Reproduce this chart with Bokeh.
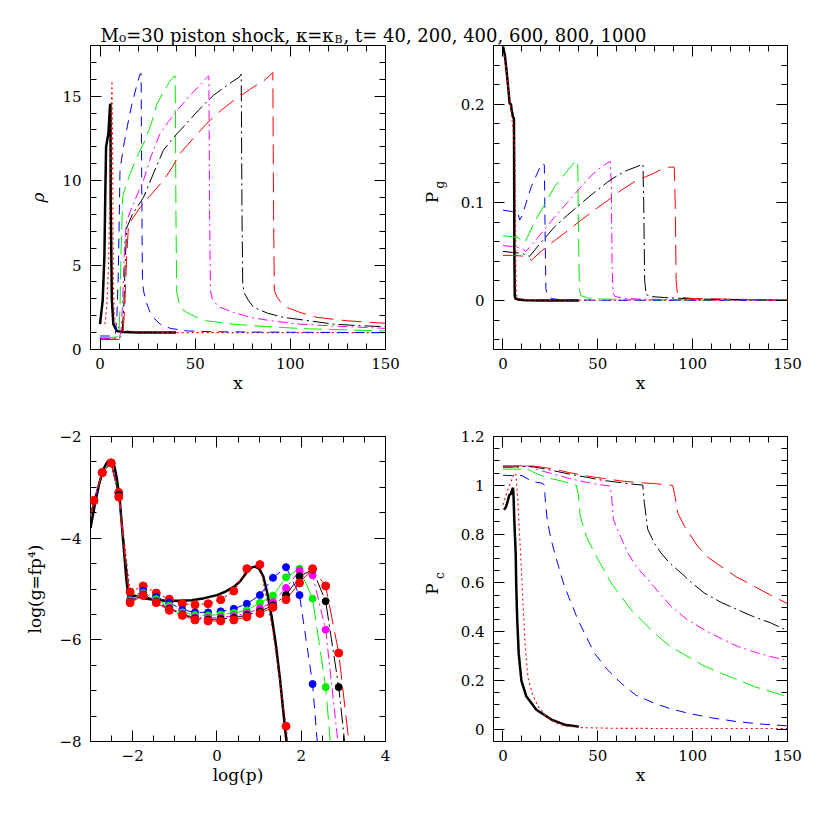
from bokeh.plotting import figure
from bokeh.models import (LinearAxis, SingleIntervalTicker, FixedTicker, CustomJSTickFormatter,
                          Label, Range1d)
from bokeh.layouts import column, row
from bokeh.embed import file_html
from bokeh.resources import INLINE

# ---------------------------------------------------------------- texts
TITLE_MAIN = "M\u2080=30 piston shock, \u03ba=\u03ba"
TITLE_SUB = "B"
TITLE_TAIL = ", t= 40, 200, 400, 600, 800, 1000"

# ---------------------------------------------------------------- panel 1: density rho(x)
rho40_x = [0, 1.4, 2.3, 2.8, 3.2, 4.4, 5.3, 5.5, 5.6, 6.2, 7.0, 8.8, 12, 20, 30, 40]
rho40 = [1.5, 2.9, 5.5, 9.4, 12.0, 12.8, 14.5, 14.5, 9.0, 3.0, 1.5, 1.1, 1.04, 1.01, 1.0, 1.0]

rho200_x = [2.6, 3.5, 4.5, 5.2, 5.8, 6.1, 6.3, 6.6, 7.0, 7.5, 8.5, 10, 13, 18, 25, 40, 80, 150]
rho200 = [1.5, 2.5, 5.0, 9.0, 13.0, 15.0, 15.9, 12.0, 4.0, 2.0, 1.5, 1.25, 1.12, 1.06, 1.03, 1.0, 1.0, 1.0]

rho400_x = [0, 5, 8, 8.8, 9.5, 10.0, 10.5, 12.3, 14.5, 16.7, 19, 21, 21.6, 21.9, 22.3, 23, 24.6, 27, 31.6, 37, 45.6, 60, 100, 150]
rho400 = [0.8, 0.8, 0.85, 1.8, 4.0, 7.0, 10.6, 12.0, 13.3, 14.5, 15.5, 16.3, 16.35, 10.0, 4.0, 3.4, 2.7, 2.0, 1.5, 1.25, 1.1, 1.05, 1.02, 1.0]

rho600_x = [0, 5, 9, 10, 10.5, 11, 11.9, 13, 15.8, 19, 23.7, 27, 29.8, 33, 36.8, 39.0, 39.5, 39.9, 40.3, 41.5, 43, 45.6, 50, 56, 70, 87.7, 110, 150]
rho600 = [0.7, 0.7, 0.75, 1.1, 2.5, 5.5, 9.0, 9.5, 10.4, 11.3, 12.4, 13.4, 14.5, 15.2, 15.9, 16.2, 16.2, 8.0, 3.4, 2.8, 2.4, 2.2, 1.95, 1.7, 1.5, 1.35, 1.22, 1.1]

rho800_x = [0, 5, 10, 11, 11.8, 12.5, 13, 14, 17, 22.8, 27, 31.6, 36, 42, 47, 52, 56, 57.2, 57.6, 58, 59, 61, 63, 70, 79, 90, 105, 125, 150]
rho800 = [0.65, 0.65, 0.7, 1.0, 2.5, 5.0, 6.4, 7.6, 8.5, 10.0, 11.5, 12.8, 13.5, 14.35, 15.0, 15.6, 16.1, 16.2, 8.0, 3.5, 3.0, 2.7, 2.5, 2.2, 1.9, 1.7, 1.5, 1.38, 1.25]

rho1000_x = [0, 5, 10, 11.5, 12.5, 13.2, 14, 17, 22.8, 28, 33.3, 39, 45.6, 52, 59.6, 65, 70, 73, 74.2, 74.6, 75, 76, 78, 80.7, 88, 96.5, 110, 122.8, 135, 150]
rho1000 = [0.6, 0.6, 0.62, 0.9, 2.5, 5.0, 7.2, 8.0, 9.0, 10.4, 11.8, 12.6, 13.4, 14.2, 15.05, 15.5, 15.9, 16.1, 16.3, 8.0, 3.8, 3.3, 2.9, 2.5, 2.15, 1.9, 1.7, 1.5, 1.42, 1.35]

rho1200_x = [0, 5, 10, 12, 13, 14, 15, 18, 21, 27, 33.3, 38, 42, 49, 56.2, 63, 70.2, 73.7, 75, 80, 86, 89, 90.8, 91.2, 91.6, 93, 95, 98, 105, 114, 130, 150]
rho1200 = [0.6, 0.6, 0.6, 0.8, 2.5, 5.5, 7.4, 7.9, 8.4, 9.2, 10.0, 10.8, 11.6, 12.5, 13.4, 14.1, 14.75, 15.1, 15.1, 15.5, 15.9, 16.2, 16.4, 8.0, 3.5, 3.1, 2.8, 2.5, 2.2, 1.9, 1.7, 1.55]

# ---------------------------------------------------------------- panel 2: gas pressure Pg(x)
pg40_x = [0, 1, 2, 3, 3.5, 4.2, 4.6, 5.2, 5.8, 6.0, 6.2, 6.6, 8, 12, 20, 40]
pg40 = [0.259, 0.25, 0.232, 0.212, 0.201, 0.2, 0.194, 0.188, 0.185, 0.05, 0.004, 0.002, 0.001, 0.0003, 0, 0]

pg200_x = [0.5, 1.5, 2.5, 3.5, 4.5, 5.5, 6.2, 6.6, 6.9, 7.5, 10, 20, 50, 100, 150]
pg200 = [0.25, 0.24, 0.222, 0.205, 0.19, 0.17, 0.153, 0.1, 0.01, 0.003, 0.001, 0.0005, 0.0002, 0.0001, 0]

pg400_x = [0, 4, 7.9, 8.8, 10, 14.9, 19.3, 21, 21.8, 22.2, 22.6, 23.5, 25.4, 30, 50, 100, 150]
pg400 = [0.092, 0.091, 0.089, 0.082, 0.086, 0.116, 0.135, 0.14, 0.138, 0.07, 0.012, 0.005, 0.002, 0.0008, 0.0003, 0.0001, 0]

pg600_x = [0, 5, 8, 11.4, 13, 16.6, 22, 27.2, 33, 38.6, 39.4, 39.8, 40.3, 41, 45, 50, 70, 150]
pg600 = [0.066, 0.065, 0.064, 0.059, 0.065, 0.08, 0.098, 0.116, 0.13, 0.143, 0.14, 0.07, 0.012, 0.005, 0.0025, 0.0015, 0.0008, 0.0002]

pg800_x = [0, 5, 10, 12, 14, 20, 27.2, 34, 41.2, 47, 51.7, 56.5, 57.1, 57.5, 58, 59, 63, 70, 90, 150]
pg800 = [0.056, 0.055, 0.053, 0.05, 0.054, 0.068, 0.085, 0.1, 0.116, 0.128, 0.136, 0.142, 0.12, 0.04, 0.008, 0.004, 0.0025, 0.0015, 0.0008, 0.0002]

pg1000_x = [0, 5, 10, 14, 20, 27.2, 34, 41.2, 48, 55.3, 60, 65.8, 70, 73.8, 74.2, 74.7, 75.5, 78, 85, 100, 150]
pg1000 = [0.05, 0.049, 0.048, 0.045, 0.059, 0.075, 0.087, 0.099, 0.11, 0.121, 0.127, 0.133, 0.136, 0.139, 0.1, 0.02, 0.006, 0.004, 0.003, 0.0015, 0.0003]

pg1200_x = [0, 5, 12, 15, 20, 27.2, 34, 41.2, 48, 55.3, 62, 69.3, 75, 79.8, 84, 88, 90.3, 90.8, 91.3, 92, 95, 100, 130, 150]
pg1200 = [0.046, 0.046, 0.045, 0.041, 0.05, 0.061, 0.071, 0.082, 0.092, 0.102, 0.112, 0.121, 0.126, 0.13, 0.134, 0.136, 0.136, 0.1, 0.02, 0.006, 0.003, 0.002, 0.001, 0.0005]

# ---------------------------------------------------------------- panel 3: log g vs log p
lgp40 = [-3.0, -2.9, -2.8, -2.7, -2.6, -2.52, -2.45, -2.38, -2.3, -2.22, -2.15, -2.1, -2.06, -2.0, -1.95, -1.8, -1.5, -1.2, -0.9, -0.6, -0.3, 0.0, 0.2, 0.4, 0.55, 0.7, 0.82, 0.9, 1.0, 1.1, 1.2, 1.3, 1.4, 1.5, 1.58, 1.65]
lg40 = [-3.8, -3.35, -2.95, -2.65, -2.5, -2.46, -2.52, -2.8, -3.3, -4.1, -4.8, -5.15, -5.2, -5.14, -5.13, -5.17, -5.21, -5.23, -5.23, -5.22, -5.18, -5.12, -5.05, -4.96, -4.85, -4.68, -4.58, -4.56, -4.6, -4.75, -5.1, -5.55, -6.1, -6.8, -7.45, -8.0]

LP = [-2.92, -2.72, -2.51, -2.33, -2.06, -1.75, -1.44, -1.13, -0.82, -0.52, -0.21, 0.09, 0.40, 0.71, 1.02, 1.33, 1.64, 1.96, 2.27, 2.58, 2.89]
LP_START = -3.0
LG_START = -3.55
LG_FLOOR = -8.0

lg200 = [-3.26, -2.71, -2.52, -3.10, -5.06, -4.94, -5.08, -5.20, -5.29, -5.31, -5.29, -5.21, -5.04, -4.60, -4.52, -5.85, -7.70]
mk200 = [1, 1, 1, 1, 1, 1, 1, 1, 1, 1, 1, 1, 1, 1, 1, 0, 1]
lp200_end = 1.68

lg400 = [-3.26, -2.71, -2.52, -3.15, -5.20, -5.03, -5.15, -5.27, -5.41, -5.46, -5.46, -5.44, -5.39, -5.29, -5.12, -4.78, -4.57, -5.12, -6.87]
lp400_end = 2.38

lg600 = [-3.26, -2.71, -2.52, -3.15, -5.22, -5.08, -5.20, -5.33, -5.46, -5.51, -5.52, -5.50, -5.47, -5.42, -5.27, -5.13, -4.77, -4.60, -5.19, -6.93]
lp600_end = 2.69

lg800 = [-3.26, -2.71, -2.52, -3.15, -5.24, -5.10, -5.23, -5.37, -5.49, -5.56, -5.57, -5.56, -5.53, -5.48, -5.38, -5.26, -4.98, -4.64, -4.73, -5.80]
lp800_end = 2.87

lg1000 = [-3.26, -2.71, -2.52, -3.15, -5.25, -5.11, -5.25, -5.39, -5.50, -5.58, -5.60, -5.59, -5.57, -5.51, -5.44, -5.32, -5.12, -4.75, -4.62, -5.24, -6.93]
lp1000_end = 3.03

lg1200 = [-3.26, -2.71, -2.52, -3.19, -5.27, -5.13, -5.27, -5.42, -5.52, -5.61, -5.63, -5.63, -5.61, -5.55, -5.48, -5.36, -5.21, -4.88, -4.60, -4.94, -6.26]
lp1200_end = 3.13

# ---------------------------------------------------------------- panel 4: CR pressure Pc(x)
pc40_x = [0.5, 1.5, 2.5, 3.3, 4.2, 5.0, 5.3, 5.6, 6.0, 6.7, 7.0, 7.5, 8.3, 9.7, 12.3, 17.6, 25.5, 32.5, 40]
pc40 = [0.90, 0.91, 0.935, 0.96, 0.965, 0.985, 0.99, 0.95, 0.85, 0.72, 0.586, 0.45, 0.31, 0.2, 0.135, 0.08, 0.04, 0.019, 0.011]

pc200_x = [0, 2, 4, 5.5, 6.7, 7.3, 7.9, 8.5, 9.3, 10.5, 11.8, 13.2, 15.5, 18.4, 22.5, 27.2, 32, 40, 60, 100, 150]
pc200 = [0.92, 0.97, 1.01, 1.04, 1.05, 1.0, 0.93, 0.83, 0.72, 0.52, 0.33, 0.21, 0.145, 0.095, 0.055, 0.028, 0.015, 0.007, 0.004, 0.003, 0.003]

pc400_x = [0, 5, 10, 14.9, 18, 21, 21.8, 22.4, 23.3, 25, 27.2, 32.4, 39.5, 48.2, 55, 62.3, 70, 79.8, 88, 97.5, 110, 123.8, 137, 150]
pc400 = [1.041, 1.04, 1.04, 1.018, 1.012, 1.008, 1.0, 0.93, 0.86, 0.79, 0.723, 0.586, 0.449, 0.312, 0.245, 0.189, 0.14, 0.107, 0.085, 0.066, 0.047, 0.031, 0.021, 0.014]

pc600_x = [0, 5, 10, 12, 18.4, 24, 30.7, 35, 38.6, 39.8, 40.7, 44, 48.2, 57, 67.5, 79.8, 88, 97.5, 106, 115, 132.5, 150]
pc600 = [1.066, 1.066, 1.066, 1.07, 1.045, 1.03, 1.018, 1.008, 1.001, 0.96, 0.874, 0.79, 0.723, 0.6, 0.49, 0.395, 0.34, 0.298, 0.26, 0.23, 0.175, 0.134]

pc800_x = [0, 5, 10, 13, 20, 27.2, 35, 44.7, 50, 56.5, 57.3, 58.2, 62, 65.8, 70, 76.3, 88.6, 97, 106.1, 115, 123.7, 132, 141.2, 148.2]
pc800 = [1.075, 1.075, 1.075, 1.08, 1.06, 1.045, 1.028, 1.011, 1.004, 0.997, 0.95, 0.86, 0.79, 0.723, 0.67, 0.614, 0.504, 0.45, 0.408, 0.372, 0.34, 0.318, 0.298, 0.285]

pc1000_x = [0, 5, 10, 13, 20, 27.2, 35, 44.7, 53, 62.3, 68, 73.7, 74.5, 76.3, 80, 83.3, 88, 93.9, 100, 106.1, 115, 123.7, 132, 141.2, 150]
pc1000 = [1.075, 1.075, 1.077, 1.08, 1.07, 1.059, 1.046, 1.032, 1.02, 1.011, 1.005, 1.001, 0.93, 0.82, 0.76, 0.723, 0.68, 0.641, 0.597, 0.559, 0.52, 0.49, 0.462, 0.436, 0.404]

pc1200_x = [0, 5, 10, 14, 20, 27.2, 35, 44.7, 53, 62.3, 70, 79.8, 85, 89.5, 90.8, 92.1, 95.6, 102.6, 108, 114.9, 123, 132.5, 141, 150]
pc1200 = [1.08, 1.08, 1.08, 1.08, 1.075, 1.066, 1.052, 1.038, 1.028, 1.018, 1.012, 1.007, 1.003, 1.0, 0.95, 0.888, 0.833, 0.751, 0.705, 0.668, 0.625, 0.586, 0.55, 0.515]

# ---------------------------------------------------------------- styles
FONT = "DejaVu Serif"
STY = {
    "t40": dict(color="black", width=2.5, dash="solid"),
    "t200": dict(color="#ff0000", width=1.1, dash="2 3"),
    "t400": dict(color="#0000ff", width=1.0, dash="10 7"),
    "t600": dict(color="#00ee00", width=1.0, dash="18 7"),
    "t800": dict(color="#ff00ff", width=1.0, dash="10 4 2 4"),
    "t1000": dict(color="black", width=1.0, dash="16 4 2 4"),
    "t1200": dict(color="#ff0000", width=1.0, dash="20 8"),
}


def make_panel(width, height, xr, yr, xint, xminor, yint, yminor, borders, xlabel, ylabel):
    L, R, T, B = borders
    p = figure(width=width, height=height, x_range=Range1d(*xr), y_range=Range1d(*yr),
               x_axis_type=None, y_axis_type=None, output_backend="svg", toolbar_location=None,
               min_border_left=L, min_border_right=R, min_border_top=T, min_border_bottom=B)
    p.outline_line_color = "black"
    p.outline_line_width = 1
    p.background_fill_color = "white"
    p.border_fill_color = "white"
    fmt = CustomJSTickFormatter(code="var s = String(Number(tick.toFixed(3))); return s.replace('-', '\u2212');")
    for loc, iv, nm in (("below", xint, xminor), ("left", yint, yminor),
                        ("above", xint, xminor), ("right", yint, yminor)):
        main = loc in ("below", "left")
        ax = LinearAxis(ticker=SingleIntervalTicker(interval=iv, num_minor_ticks=nm),
                        formatter=fmt if main else CustomJSTickFormatter(code="return '';"),
                        axis_line_color=None,
                        major_tick_in=11, major_tick_out=0, minor_tick_in=6, minor_tick_out=0,
                        major_tick_line_color="black", minor_tick_line_color="black",
                        major_label_text_font=FONT,
                        major_label_text_font_size="15px" if main else "0px",
                        major_label_text_color="black",
                        major_label_standoff=(8 if loc == "below" else 9) if main else 0)
        if main:
            lab = xlabel if loc == "below" else ylabel
            if lab:
                ax.axis_label = lab
                ax.axis_label_text_font = FONT
                ax.axis_label_text_font_size = "17px"
                ax.axis_label_text_font_style = "normal"
                ax.axis_label_text_color = "black"
                ax.axis_label_standoff = 1 if loc == "below" else 11
        p.add_layout(ax, loc)
    return p


def add_sub_ylabel(p, main, sub, y_sub):
    # y-axis label "main" with a subscript "sub": the subscript is the single tick label
    # of an extra (tick-less) left axis, the main letter is that axis' label
    ax = LinearAxis(ticker=FixedTicker(ticks=[y_sub], minor_ticks=[]),
                    formatter=CustomJSTickFormatter(code="return '%s';" % sub),
                    axis_line_color=None, major_tick_line_color=None, minor_tick_line_color=None,
                    major_tick_in=0, major_tick_out=0, minor_tick_in=0, minor_tick_out=0,
                    major_label_orientation="vertical", major_label_text_font=FONT,
                    major_label_text_font_size="12px", major_label_text_color="black",
                    major_label_standoff=10,
                    axis_label=main, axis_label_text_font=FONT, axis_label_text_font_size="17px",
                    axis_label_text_font_style="normal", axis_label_text_color="black",
                    axis_label_standoff=-11)
    p.add_layout(ax, "left")


def draw(p, xs, ys, key):
    s = STY[key]
    p.line(xs, ys, line_color=s["color"], line_width=s["width"], line_dash=s["dash"])


# ---------------------------------------------------------------- title figure
W1, W2 = 410, 407
TH = 45
tfig = figure(width=W1 + W2, height=TH, x_range=Range1d(0, W1 + W2), y_range=Range1d(0, TH),
              x_axis_type=None, y_axis_type=None, output_backend="svg", toolbar_location=None,
              min_border=0)
tfig.outline_line_color = None
tfig.add_layout(Label(x=333, y=TH - 35, text=TITLE_MAIN, text_align="right", text_baseline="alphabetic",
                      text_font=FONT, text_font_size="18px", text_color="black"))
tfig.add_layout(Label(x=334, y=TH - 38.5, text=TITLE_SUB, text_align="left", text_baseline="alphabetic",
                      text_font=FONT, text_font_size="11px", text_color="black"))
tfig.add_layout(Label(x=343, y=TH - 35, text=TITLE_TAIL, text_align="left", text_baseline="alphabetic",
                      text_font=FONT, text_font_size="18px", text_color="black"))

# ---------------------------------------------------------------- panel 1
p1 = make_panel(W1, 355, (-5, 150), (0, 18), 50, 5, 5, 5, (90, 25, 0, 51), "x", "\u03c1")
p1.left[0].axis_label_text_font_style = "italic"
for xs, ys, k in ((rho40_x, rho40, "t40"), (rho200_x, rho200, "t200"), (rho400_x, rho400, "t400"),
                  (rho600_x, rho600, "t600"), (rho800_x, rho800, "t800"),
                  (rho1000_x, rho1000, "t1000"), (rho1200_x, rho1200, "t1200")):
    draw(p1, xs, ys, k)

# ---------------------------------------------------------------- panel 2
p2 = make_panel(W2, 355, (-5, 150), (-0.05, 0.26), 50, 5, 0.1, 5, (83, 30, 0, 51), "x", None)
for xs, ys, k in ((pg40_x, pg40, "t40"), (pg200_x, pg200, "t200"), (pg400_x, pg400, "t400"),
                  (pg600_x, pg600, "t600"), (pg800_x, pg800, "t800"),
                  (pg1000_x, pg1000, "t1000"), (pg1200_x, pg1200, "t1200")):
    draw(p2, xs, ys, k)
add_sub_ylabel(p2, "P", "g", 0.118)

# ---------------------------------------------------------------- panel 3
p3 = make_panel(W1, 416, (-3, 4), (-8, -2), 2, 4, 2, 4, (90, 25, 36, 75), "log(p)", "log(g=fp\u2074)")
draw(p3, lgp40, lg40, "t40")
for lg, end, k in ((lg200, lp200_end, "t200"), (lg400, lp400_end, "t400"), (lg600, lp600_end, "t600"),
                   (lg800, lp800_end, "t800"), (lg1000, lp1000_end, "t1000"), (lg1200, lp1200_end, "t1200")):
    n = len(lg)
    draw(p3, [LP_START] + LP[:n] + [end], [LG_START] + lg + [LG_FLOOR], k)
for lg, k, sz in ((lg200, "t200", 8), (lg400, "t400", 7), (lg600, "t600", 7),
                  (lg800, "t800", 7), (lg1000, "t1000", 7), (lg1200, "t1200", 8)):
    n = len(lg)
    mk = mk200 if k == "t200" else [1] * n
    xs = [LP[i] for i in range(n) if mk[i]]
    ys = [lg[i] for i in range(n) if mk[i]]
    p3.scatter(xs, ys, size=sz, marker="circle", fill_color=STY[k]["color"], line_color=STY[k]["color"])

# ---------------------------------------------------------------- panel 4
p4 = make_panel(W2, 416, (-5, 150), (-0.05, 1.2001), 50, 5, 0.2, 4, (83, 30, 36, 75), "x", None)
for xs, ys, k in ((pc40_x, pc40, "t40"), (pc200_x, pc200, "t200"), (pc400_x, pc400, "t400"),
                  (pc600_x, pc600, "t600"), (pc800_x, pc800, "t800"),
                  (pc1000_x, pc1000, "t1000"), (pc1200_x, pc1200, "t1200")):
    draw(p4, xs, ys, k)
add_sub_ylabel(p4, "P", "c", 0.63)

layout = column(tfig, row(p1, p2), row(p3, p4))
open("out.html", "w").write(file_html(layout, INLINE))
